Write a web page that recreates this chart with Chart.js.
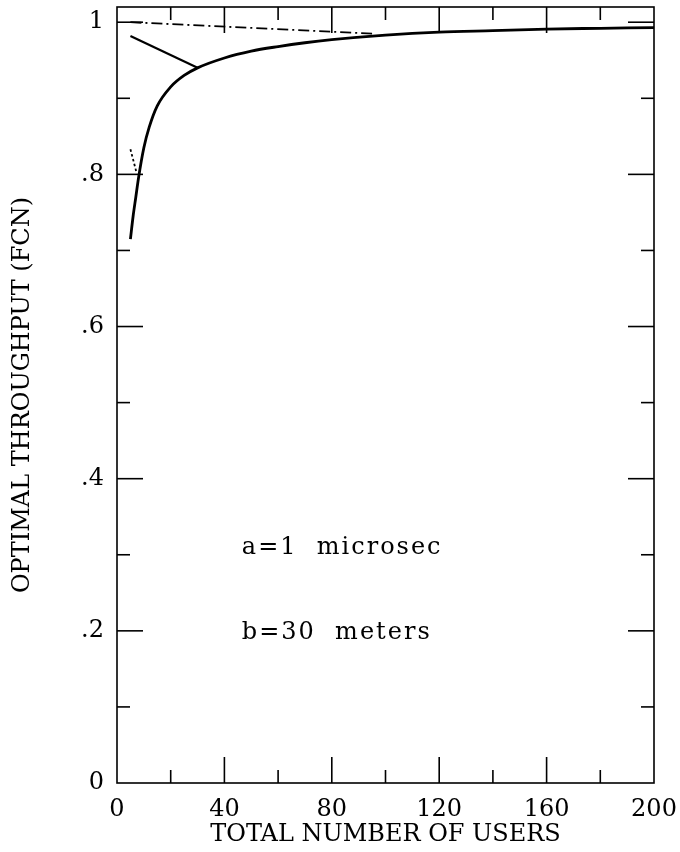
<!DOCTYPE html>
<html>
<head>
<meta charset="utf-8">
<script src="https://cdn.jsdelivr.net/npm/chart.js@4.4.1/dist/chart.umd.min.js"></script>
<style>
  html, body { margin: 0; padding: 0; background: #fff; }
  #wrap { width: 680px; height: 852px; }
</style>
</head>
<body>
<div id="wrap"><canvas id="c" width="680" height="852"></canvas></div>
<script>
// ---- data ----
const curveX = [5, 6, 7, 8, 10, 12, 15, 20, 25, 30, 40, 50, 60, 70, 80, 100, 120, 140, 160, 180, 200];
const curveY = [0.715, 0.745, 0.77, 0.795, 0.835, 0.862, 0.89, 0.915, 0.93, 0.94, 0.953, 0.962, 0.968, 0.973, 0.977, 0.983, 0.987, 0.989, 0.991, 0.992, 0.993];
const branchX = [5, 30];
const branchY = [0.982, 0.94];
const dashDotX = [5, 95];
const dashDotY = [1.0, 0.985];
const dottedX = [5, 7.3];
const dottedY = [0.833, 0.802];

const xTickLabels = ["0", "40", "80", "120", "160", "200"];
const xTickValues = [0, 40, 80, 120, 160, 200];
const yTickLabels = ["0", ".2", ".4", ".6", ".8", "1"];
const yTickValues = [0, 0.2, 0.4, 0.6, 0.8, 1.0];
const xMajorMarks = [40, 80, 120, 160];
const xMinorMarks = [20, 60, 100, 140, 180];
const yMajorMarks = [0.2, 0.4, 0.6, 0.8, 1.0];
const yMinorMarks = [0.1, 0.3, 0.5, 0.7, 0.9];

const xTitle = "TOTAL NUMBER OF USERS";
const yTitle = "OPTIMAL THROUGHPUT (FCN)";
const notes = ["a=1  microsec", "b=30  meters"];
const noteX = [46.5, 46.5];
const noteY = [0.309, 0.197];

const pts = (xs, ys) => xs.map((x, i) => ({ x: x, y: ys[i] }));
const FONT = "'DejaVu Serif', serif";

const frame = {
  id: 'frame',
  afterDraw(chart) {
    const { ctx, chartArea: a, scales: { x, y } } = chart;
    ctx.save();
    ctx.strokeStyle = '#000';
    ctx.lineWidth = 1.6;
    ctx.strokeRect(a.left, a.top, a.right - a.left, a.bottom - a.top);
    const MAJ = 26, MIN = 13;
    const mark = (x1, y1, x2, y2) => { ctx.beginPath(); ctx.moveTo(x1, y1); ctx.lineTo(x2, y2); ctx.stroke(); };
    xMajorMarks.forEach(v => { const p = x.getPixelForValue(v); mark(p, a.bottom, p, a.bottom - MAJ); mark(p, a.top, p, a.top + MAJ); });
    xMinorMarks.forEach(v => { const p = x.getPixelForValue(v); mark(p, a.bottom, p, a.bottom - MIN); mark(p, a.top, p, a.top + MIN); });
    yMajorMarks.forEach(v => { const p = y.getPixelForValue(v); mark(a.left, p, a.left + MAJ, p); mark(a.right, p, a.right - MAJ, p); });
    yMinorMarks.forEach(v => { const p = y.getPixelForValue(v); mark(a.left, p, a.left + MIN, p); mark(a.right, p, a.right - MIN, p); });
    ctx.fillStyle = '#000';
    ctx.font = '24px ' + FONT;
    ctx.letterSpacing = '2px';
    ctx.textBaseline = 'middle';
    ctx.textAlign = 'left';
    notes.forEach((t, i) => ctx.fillText(t, x.getPixelForValue(noteX[i]), y.getPixelForValue(noteY[i])));
    ctx.restore();
  }
};

const lineDs = (data, width, dash) => ({
  data, borderColor: '#000', borderWidth: width, borderDash: dash || [],
  pointRadius: 0, fill: false, showLine: true
});

const noPad = s => { s.paddingTop = 0; s.paddingBottom = 0; s.paddingLeft = 0; s.paddingRight = 0; };

new Chart(document.getElementById('c'), {
  type: 'scatter',
  data: {
    datasets: [
      Object.assign(lineDs(pts(curveX, curveY), 2.8), { cubicInterpolationMode: 'monotone' }),
      lineDs(pts(branchX, branchY), 2.2),
      lineDs(pts(dashDotX, dashDotY), 1.8, [11, 4, 2, 4]),
      lineDs(pts(dottedX, dottedY), 1.8, [2.5, 2.5])
    ]
  },
  options: {
    responsive: false,
    animation: false,
    devicePixelRatio: 1,
    layout: { padding: { top: 7, right: 26, left: 0, bottom: 0 } },
    plugins: { legend: { display: false }, tooltip: { enabled: false } },
    scales: {
      x: {
        type: 'linear', min: 0, max: 200,
        grid: { display: false, drawTicks: false },
        border: { display: false },
        afterBuildTicks: s => { s.ticks = xTickValues.map(v => ({ value: v })); },
        afterFit: s => { s.height = 69; noPad(s); },
        ticks: {
          color: '#000', padding: 12, maxRotation: 0, autoSkip: false,
          font: { family: FONT, size: 24 },
          callback: (v) => xTickLabels[xTickValues.indexOf(v)]
        },
        title: { display: true, text: xTitle, color: '#000', font: { family: FONT, size: 24 }, padding: { top: 0, bottom: 3 } }
      },
      y: {
        type: 'linear', min: 0, max: 1.02,
        grid: { display: false, drawTicks: false },
        border: { display: false },
        afterBuildTicks: s => { s.ticks = yTickValues.map(v => ({ value: v })); },
        afterFit: s => { s.width = 117; noPad(s); },
        ticks: {
          color: '#000', padding: 13, autoSkip: false,
          font: { family: FONT, size: 24 },
          callback: (v) => yTickLabels[yTickValues.indexOf(v)]
        },
        title: { display: true, text: yTitle, color: '#000', font: { family: FONT, size: 24 }, padding: { top: 8, bottom: 0 } }
      }
    }
  },
  plugins: [frame]
});
</script>
</body>
</html>
